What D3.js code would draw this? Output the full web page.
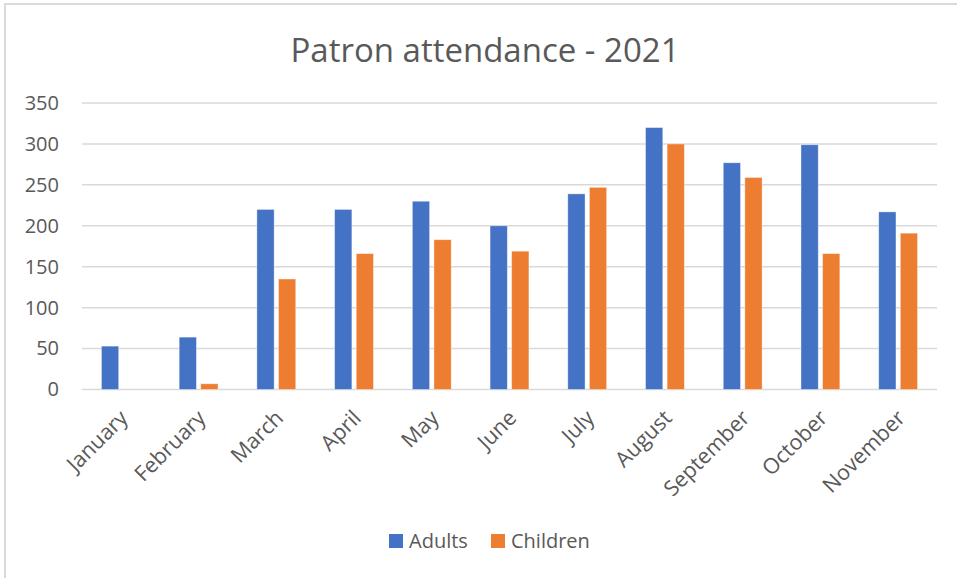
<!DOCTYPE html>
<html>
<head>
<meta charset="utf-8">
<script src="https://cdn.jsdelivr.net/npm/d3@7"></script>
<style>
  body { margin: 0; background: #fff; }
  text { font-family: "Open Sans", sans-serif; fill: #595959; }
</style>
</head>
<body>
<div id="container"></div>
<script>
let months = ["January", "February", "March", "April", "May", "June", "July", "August", "September", "October", "November"];
let adults = [53, 64, 220, 220, 230, 200, 239, 320, 277, 299, 217];
let children = [0, 7, 135, 166, 183, 169, 247, 300, 259, 166, 191];
let seriesNames = ["Adults", "Children"];
let seriesColors = ["#4472C4", "#ED7D31"];
let yTicks = [0, 50, 100, 150, 200, 250, 300, 350];

let w = 957;
let h = 578;

let viz = d3.select("#container")
  .append("svg")
  .attr("width", w)
  .attr("height", h);

// chart frame
viz.append("rect")
  .attr("x", 5).attr("y", 4)
  .attr("width", w + 20).attr("height", h + 20)
  .attr("fill", "#fff")
  .attr("stroke", "#d9d9d9")
  .attr("stroke-width", 2);

let xScale = d3.scaleBand()
  .domain(months)
  .range([82, 937])
  .paddingInner(0.5)
  .paddingOuter(0.25);

let xSub = d3.scaleBand()
  .domain(seriesNames)
  .range([0, xScale.bandwidth()])
  .paddingInner(0.2);

let yScale = d3.scaleLinear()
  .domain([0, 350])
  .range([389.5, 103]);

// gridlines
viz.append("g")
  .selectAll("line")
  .data(yTicks)
  .enter()
  .append("line")
  .attr("x1", 82)
  .attr("x2", 937)
  .attr("y1", d => yScale(d))
  .attr("y2", d => yScale(d))
  .attr("stroke", "#d9d9d9")
  .attr("stroke-width", 1.5);

// y labels
let yAxis = d3.axisLeft(yScale).tickValues(yTicks).tickSize(0).tickPadding(0);
let yG = viz.append("g")
  .attr("transform", "translate(59,0)")
  .call(yAxis);
yG.select(".domain").remove();
yG.selectAll("text")
  .style("font-size", "20px")
  .attr("fill", "#595959");

// bars
let rows = months.map((m, i) => ({ month: m, values: [adults[i], children[i]] }));

let groups = viz.append("g")
  .selectAll("g")
  .data(rows)
  .enter()
  .append("g")
  .attr("transform", d => "translate(" + xScale(d.month) + ",0)");

groups.selectAll("rect")
  .data(d => d.values.map((v, j) => ({ name: seriesNames[j], value: v, color: seriesColors[j] })))
  .enter()
  .append("rect")
  .attr("x", d => xSub(d.name))
  .attr("width", xSub.bandwidth())
  .attr("y", d => yScale(d.value))
  .attr("height", d => yScale(0) - yScale(d.value))
  .attr("fill", d => d.color)
  .attr("stroke", "rgba(255,255,255,0.5)")
  .attr("stroke-width", 0.8)
  .attr("display", d => d.value > 0 ? null : "none");

// x labels
viz.append("g")
  .selectAll("text")
  .data(months)
  .enter()
  .append("text")
  .attr("transform", d => "translate(" + (xScale(d) + xScale.bandwidth() / 2 + 3) + ",414) rotate(-45)")
  .attr("text-anchor", "end")
  .attr("dy", "0.35em")
  .style("font-size", "21.5px")
  .text(d => d);

// title
viz.append("text")
  .attr("x", 485)
  .attr("y", 62)
  .attr("text-anchor", "middle")
  .style("font-size", "33px")
  .text("Patron attendance - 2021");

// legend
let legendX = [389, 491];
let legend = viz.append("g")
  .selectAll("g")
  .data(seriesNames)
  .enter()
  .append("g")
  .attr("transform", (d, i) => "translate(" + legendX[i] + ",534)");

legend.append("rect")
  .attr("width", 14)
  .attr("height", 14)
  .attr("fill", (d, i) => seriesColors[i]);

legend.append("text")
  .attr("x", 20)
  .attr("y", 14)
  .style("font-size", "20px")
  .text(d => d);
</script>
</body>
</html>
